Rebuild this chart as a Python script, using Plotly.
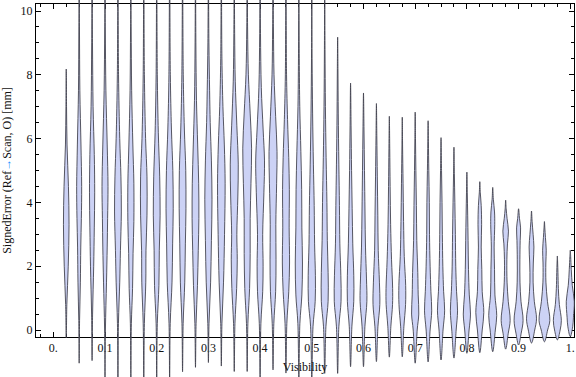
import plotly.graph_objects as go

W, H = 576, 377

# ---------------- data ----------------
positions = [0.025, 0.05, 0.075, 0.1, 0.125, 0.15, 0.175, 0.2, 0.225, 0.25,
             0.275, 0.3, 0.325, 0.35, 0.375, 0.4, 0.425, 0.45, 0.475, 0.5,
             0.525, 0.55, 0.575, 0.6, 0.625, 0.65, 0.675, 0.7, 0.725, 0.75,
             0.775, 0.8, 0.825, 0.85, 0.875, 0.9, 0.925, 0.95, 0.975, 1.0]

y_min = [-0.25, -1.04, -0.96, -1.7, -1.7, -1.7, -1.7, -1.7, -1.7, -1.31,
         -1.17, -1.02, -1.13, -1.3, -1.3, -1.6, -1.25, -1.35, -1.6, -1.6,
         -1.36, -1.36, -1.15, -1.15, -0.99, -0.85, -0.84, -1.04, -1.0, -0.94,
         -0.88, -0.73, -0.71, -0.68, -0.6, -0.47, -0.41, -0.37, -0.31, -0.21]

y_max = [8.18, 11.5, 11.0, 11.5, 11.5, 11.2, 11.6, 11.4, 11.8, 11.3,
         11.5, 11.2, 11.6, 11.4, 11.8, 11.5, 11.3, 11.6, 11.2, 11.0,
         10.8, 9.18, 7.74, 7.43, 7.1, 6.7, 6.67, 6.83, 6.56, 6.03,
         5.73, 4.95, 4.65, 4.47, 4.07, 3.8, 3.73, 3.4, 2.32, 2.5]

# density profile of each violin: levels (value) and relative half-widths
knot_y = [
    [0.8, 2.0, 3.3, 4.5, 5.8, 7.0],
    [0.3, 1.5, 2.6, 3.5, 4.5, 5.8, 7.5, 9.5],
    [0.5, 2.0, 3.2, 4.3, 5.5, 7.0, 9.0],
    [0.0, 1.5, 2.6, 3.5, 4.5, 5.8, 7.5, 9.5],
    [0.2, 1.5, 2.5, 3.7, 4.8, 6.0, 8.0],
    [0.2, 1.3, 2.4, 3.4, 4.6, 5.8, 7.5, 9.5],
    [0.2, 1.5, 2.5, 3.6, 4.8, 6.0, 8.0],
    [0.2, 1.4, 2.5, 3.6, 4.8, 6.2, 8.0],
    [0.2, 1.5, 2.7, 3.8, 5.0, 6.3, 8.0],
    [0.2, 1.5, 2.7, 3.8, 5.0, 6.3, 8.0],
    [0.2, 1.4, 2.5, 3.5, 4.6, 5.8, 7.2, 9.0],
    [0.2, 1.5, 2.8, 4.1, 5.3, 6.5, 7.5, 9.0],
    [0.2, 1.5, 3.0, 4.6, 5.8, 7.0, 8.5],
    [0.2, 1.3, 2.2, 3.0, 4.2, 5.2, 6.4, 7.8, 9.3],
    [0.2, 1.3, 2.4, 3.5, 4.6, 5.7, 6.8, 8.0, 9.5],
    [0.2, 1.2, 2.0, 3.0, 4.3, 5.3, 6.3, 7.6, 9.3],
    [0.2, 1.2, 2.2, 3.3, 4.6, 5.6, 6.7, 8.0, 9.5],
    [0.2, 1.2, 2.1, 3.2, 4.4, 5.4, 6.6, 8.0],
    [0.2, 1.1, 2.1, 3.2, 4.4, 5.6, 7.0, 8.5],
    [0.1, 0.9, 1.7, 2.7, 3.9, 5.2, 6.8, 8.5],
    [0.1, 0.9, 1.8, 2.8, 4.0, 5.4, 7.0, 8.8],
    [0.1, 0.9, 1.7, 2.7, 3.9, 5.2, 6.8, 8.2],
    [0.1, 0.9, 1.7, 2.7, 3.8, 5.0, 6.4],
    [0.1, 0.9, 1.6, 2.6, 3.7, 5.0, 6.3],
    [0.1, 0.8, 1.5, 2.5, 3.6, 4.8, 6.1],
    [0.1, 0.8, 1.3, 2.2, 3.3, 4.5, 5.7],
    [0.1, 0.8, 1.4, 2.3, 3.4, 4.6, 5.8],
    [0.0, 0.5, 1.1, 1.8, 2.8, 3.9, 5.0, 6.0],
    [0.0, 0.6, 1.2, 2.0, 3.0, 4.0, 5.0, 5.9],
    [0.0, 0.6, 1.2, 2.0, 3.0, 4.0, 5.0],
    [0.0, 0.6, 1.2, 2.0, 3.0, 4.0, 4.9],
    [0.0, 0.5, 1.1, 1.9, 2.8, 3.6, 4.3],
    [0.0, 0.55, 1.2, 1.9, 2.6, 3.3, 3.9, 4.3],
    [0.0, 0.45, 1.1, 1.9, 2.6, 3.3, 3.7, 4.1],
    [-0.1, 0.3, 0.9, 1.5, 2.2, 2.7, 3.1, 3.5, 3.8],
    [-0.1, 0.3, 0.9, 1.5, 2.2, 2.8, 3.2, 3.5],
    [0.0, 0.35, 0.9, 1.5, 2.1, 2.6, 3.0, 3.4],
    [0.0, 0.3, 0.9, 1.5, 2.1, 2.5, 2.9, 3.2],
    [0.0, 0.3, 0.8, 1.3, 1.8, 2.1],
    [0.1, 0.4, 0.9, 1.4, 1.9, 2.3],
]
knot_w = [
    [0.6, 2.0, 2.8, 2.2, 0.8, 0.3],
    [0.4, 1.2, 1.6, 2.2, 2.5, 1.8, 0.7, 0.3],
    [0.5, 1.6, 2.2, 2.6, 2.2, 1.0, 0.4],
    [0.4, 1.5, 2.2, 2.6, 3.0, 2.2, 0.9, 0.3],
    [0.5, 1.8, 2.5, 3.4, 3.0, 1.8, 0.6],
    [0.5, 1.7, 2.2, 3.0, 3.0, 2.0, 0.8, 0.3],
    [0.6, 2.0, 2.2, 3.2, 3.2, 1.8, 0.6],
    [0.6, 2.2, 2.6, 3.4, 3.0, 1.6, 0.6],
    [0.6, 2.4, 3.0, 3.6, 3.2, 1.8, 0.7],
    [0.6, 2.2, 2.8, 3.4, 3.2, 1.8, 0.7],
    [0.6, 2.0, 2.8, 3.4, 3.2, 2.2, 1.0, 0.4],
    [0.6, 2.2, 3.0, 3.6, 3.0, 1.8, 1.2, 0.5],
    [0.6, 2.2, 3.2, 3.8, 3.0, 1.6, 0.6],
    [0.7, 2.4, 3.0, 2.6, 3.6, 4.0, 2.6, 1.0, 0.4],
    [0.7, 2.4, 3.0, 3.0, 3.8, 4.4, 3.0, 1.2, 0.4],
    [0.8, 2.6, 3.0, 2.6, 3.8, 4.4, 3.0, 1.2, 0.4],
    [0.8, 2.6, 3.0, 2.8, 3.6, 4.0, 2.6, 1.0, 0.4],
    [0.9, 2.8, 3.6, 3.2, 3.4, 2.8, 1.6, 0.6],
    [1.0, 3.0, 3.6, 3.0, 2.8, 2.0, 0.9, 0.4],
    [1.2, 3.4, 3.6, 2.8, 2.4, 1.6, 0.8, 0.3],
    [1.2, 3.4, 3.4, 2.6, 2.2, 1.4, 0.7, 0.3],
    [1.2, 3.4, 3.2, 2.2, 1.8, 1.2, 0.6, 0.3],
    [1.3, 3.2, 3.2, 2.2, 1.6, 1.0, 0.5],
    [1.4, 3.4, 3.0, 2.0, 1.5, 1.0, 0.5],
    [1.5, 3.4, 3.0, 1.8, 1.4, 0.9, 0.4],
    [1.5, 3.2, 3.3, 2.2, 1.3, 0.8, 0.4],
    [1.6, 3.3, 3.4, 2.0, 1.3, 0.8, 0.3],
    [2.0, 3.6, 3.0, 2.6, 1.6, 1.2, 0.7, 0.3],
    [2.0, 3.6, 2.8, 2.0, 1.4, 1.2, 0.7, 0.3],
    [2.0, 3.6, 2.6, 1.8, 1.3, 1.0, 0.5],
    [2.2, 3.6, 2.6, 1.8, 1.4, 0.9, 0.4],
    [2.2, 3.6, 2.4, 1.6, 1.2, 0.8, 0.4],
    [2.4, 4.0, 2.4, 2.0, 1.4, 1.8, 1.4, 0.5],
    [2.6, 4.0, 2.2, 1.8, 1.4, 2.0, 1.8, 0.6],
    [2.6, 4.5, 2.6, 1.4, 1.2, 1.8, 2.8, 1.4, 0.5],
    [2.6, 4.5, 2.4, 1.4, 1.3, 1.6, 2.0, 0.9],
    [3.2, 5.0, 2.8, 1.6, 1.8, 2.4, 1.6, 0.6],
    [3.2, 5.4, 3.0, 1.5, 1.4, 1.8, 1.0, 0.4],
    [2.8, 4.0, 2.0, 1.0, 0.6, 0.3],
    [2.4, 3.2, 4.0, 2.0, 1.0, 0.4],
]

x_tick_vals = [0.0, 0.1, 0.2, 0.3, 0.4, 0.5, 0.6, 0.7, 0.8, 0.9, 1.0]
x_tick_text = ["0.", "0.1", "0.2", "0.3", "0.4", "0.5", "0.6", "0.7", "0.8", "0.9", "1."]
y_tick_vals = [0, 2, 4, 6, 8, 10]
y_tick_text = ["0", "2", "4", "6", "8", "10"]

# ---------------- layout geometry ----------------
FRAME_L, FRAME_R, FRAME_T, FRAME_B = 36.0, 574.0, 4.3, 336.7
X_RANGE = [-0.0335, 1.0072]
Y_RANGE = [-0.21, 10.21]

xd = [FRAME_L / W, FRAME_R / W]
yd = [1 - FRAME_B / H, 1 - FRAME_T / H]

sx = (X_RANGE[1] - X_RANGE[0]) / (xd[1] - xd[0])
sy = (Y_RANGE[1] - Y_RANGE[0]) / (yd[1] - yd[0])
X2_RANGE = [X_RANGE[0] - xd[0] * sx, X_RANGE[1] + (1 - xd[1]) * sx]
Y2_RANGE = [Y_RANGE[0] - yd[0] * sy, Y_RANGE[1] + (1 - yd[1]) * sy]

px_unit = (X_RANGE[1] - X_RANGE[0]) / (FRAME_R - FRAME_L)  # data units per pixel

FILL = "rgb(204,210,245)"
EDGE = "rgba(60,60,72,0.85)"
FONT = "Liberation Serif"

fig = go.Figure()

# empty trace so the framed subplot exists
fig.add_trace(go.Scatter(x=[None], y=[None], xaxis="x", yaxis="y",
                         showlegend=False, hoverinfo="skip"))

for xc, lo, hi, ky, kw in zip(positions, y_min, y_max, knot_y, knot_w):
    ys = [lo] + ky + [hi]
    ws = [0.0] + kw + [0.0]
    left_x = [xc - w * px_unit for w in ws]
    right_x = [xc + w * px_unit for w in reversed(ws)]
    xs = left_x + right_x[1:]
    yy = ys + list(reversed(ys))[1:]
    fig.add_trace(go.Scatter(
        x=xs, y=yy, xaxis="x2", yaxis="y2", mode="lines",
        line=dict(color=EDGE, width=1, shape="spline", smoothing=1.0),
        fill="toself", fillcolor=FILL, showlegend=False, hoverinfo="skip"))

axis_common = dict(
    showline=True, linecolor="black", linewidth=1, mirror="allticks",
    ticks="inside", tickcolor="black", tickwidth=1, ticklen=5,
    showgrid=False, zeroline=False,
    tickfont=dict(family=FONT, size=12, color="#111"),
)

fig.update_layout(
    width=W, height=H,
    margin=dict(l=0, r=0, t=0, b=0),
    paper_bgcolor="white", plot_bgcolor="rgba(0,0,0,0)",
    showlegend=False,
    xaxis=dict(domain=xd, range=X_RANGE, anchor="y",
               tickmode="array", tickvals=x_tick_vals, ticktext=x_tick_text,
               minor=dict(dtick=0.025, tick0=0, ticks="inside", ticklen=3,
                          tickcolor="black", showgrid=False),
               title=dict(text="Visibility", font=dict(family=FONT, size=12, color="#111"),
                          standoff=8),
               **axis_common),
    yaxis=dict(domain=yd, range=Y_RANGE, anchor="x",
               tickmode="array", tickvals=y_tick_vals, ticktext=y_tick_text,
               minor=dict(dtick=0.5, tick0=0, ticks="inside", ticklen=3,
                          tickcolor="black", showgrid=False),
               title=dict(text="SignedError (Ref<span style='color:#1e90ff'>\u2192</span>Scan, O) [mm]",
                          font=dict(family=FONT, size=12, color="#111"), standoff=6),
               **axis_common),
    xaxis2=dict(domain=[0, 1], range=X2_RANGE, anchor="y2", visible=False,
                showgrid=False, zeroline=False),
    yaxis2=dict(domain=[0, 1], range=Y2_RANGE, anchor="x2", visible=False,
                showgrid=False, zeroline=False),
)

fig.write_html("out.html")
